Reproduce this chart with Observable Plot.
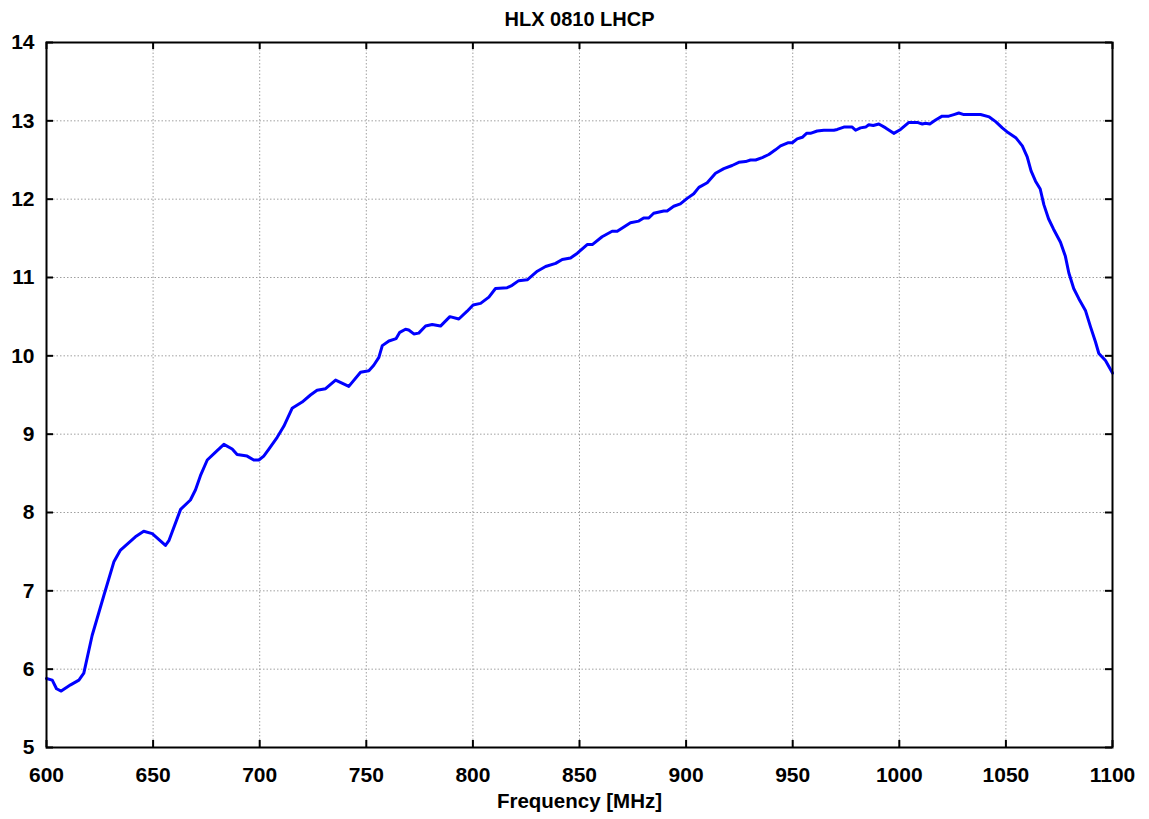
<!DOCTYPE html>
<html>
<head>
<meta charset="utf-8">
<script src="https://cdn.jsdelivr.net/npm/d3@7"></script>
<script src="https://cdn.jsdelivr.net/npm/@observablehq/plot@0.6"></script>
<style>
  html, body { margin: 0; padding: 0; background: #fff; }
</style>
</head>
<body>
<div id="chart"></div>
<script>
const title = "HLX 0810 LHCP";
const xLabel = "Frequency [MHz]";
const xTicks = [600, 650, 700, 750, 800, 850, 900, 950, 1000, 1050, 1100];
const yTicks = [5, 6, 7, 8, 9, 10, 11, 12, 13, 14];

const freq = [
  600, 602.7, 604.7, 606.9, 611.3, 615.2, 617.5, 621.4, 626.9, 631.6,
  634.7, 641.7, 645.6, 649.6, 655.8, 657.4, 662.9, 667.5, 669.9, 672.2,
  675.4, 679.3, 683.2, 687.1, 689.4, 694.1, 697.2, 699.6, 701.9, 704.3,
  708.2, 711.3, 715.2, 719.9, 723.8, 726.9, 730.9, 735.6, 741.8, 747.3,
  751.2, 753.5, 755.9, 757.5, 760.6, 764.0, 765.7, 768.4, 769.9, 772.3,
  774.6, 777.8, 780.9, 784.8, 789.2, 793.4, 797.3, 800.1, 803.6, 807.5,
  810.6, 816.1, 818.4, 821.5, 825.5, 830.2, 834.1, 838.8, 841.9, 845.8,
  849.0, 853.6, 856.0, 860.6, 865.3, 867.7, 873.9, 877.8, 880.1, 882.5,
  884.8, 889.5, 891.1, 894.2, 897.3, 900.5, 903.6, 906.0, 909.9, 913.8,
  917.7, 921.6, 924.7, 927.9, 930.2, 932.6, 935.7, 938.8, 941.9, 944.3,
  947.7, 949.8, 952.1, 954.5, 956.5, 958.3, 961.5, 964.6, 969.3, 970.9,
  974.0, 977.9, 979.5, 981.8, 984.2, 985.7, 987.8, 990.4, 993.6, 997.4,
  1000.6, 1004.5, 1008.4, 1010.8, 1012.3, 1014.3, 1017.0, 1020.1, 1023.2, 1025.6,
  1027.9, 1030.3, 1038.1, 1042.2, 1045.2, 1048.3, 1051.0, 1054.8, 1057.7, 1060.0,
  1061.8, 1063.9, 1066.1, 1067.8, 1070.0, 1072.3, 1075.6, 1077.9, 1079.5, 1081.8,
  1084.2, 1087.3, 1089.7, 1092.0, 1093.6, 1096.7, 1100
];
const gain = [
  5.88, 5.86, 5.75, 5.72, 5.80, 5.86, 5.95, 6.43, 6.94, 7.37,
  7.52, 7.69, 7.76, 7.73, 7.58, 7.64, 8.04, 8.16, 8.29, 8.47,
  8.67, 8.77, 8.87, 8.81, 8.74, 8.72, 8.67, 8.67, 8.72, 8.81,
  8.96, 9.10, 9.33, 9.41, 9.50, 9.56, 9.58, 9.69, 9.61, 9.79,
  9.81, 9.88, 9.98, 10.13, 10.19, 10.22, 10.30, 10.34, 10.33, 10.28,
  10.29, 10.38, 10.40, 10.38, 10.50, 10.47, 10.57, 10.65, 10.67, 10.75,
  10.86, 10.87, 10.90, 10.96, 10.97, 11.08, 11.14, 11.18, 11.23, 11.25,
  11.31, 11.42, 11.42, 11.52, 11.59, 11.59, 11.70, 11.72, 11.76, 11.76,
  11.82, 11.85, 11.85, 11.91, 11.94, 12.01, 12.07, 12.15, 12.21, 12.33,
  12.39, 12.43, 12.47, 12.48, 12.50, 12.50, 12.53, 12.57, 12.63, 12.68,
  12.72, 12.72, 12.77, 12.79, 12.84, 12.84, 12.87, 12.88, 12.88, 12.89,
  12.92, 12.92, 12.88, 12.91, 12.92, 12.95, 12.94, 12.96, 12.91, 12.84,
  12.89, 12.98, 12.98, 12.96, 12.97, 12.96, 13.01, 13.06, 13.06, 13.08,
  13.10, 13.08, 13.08, 13.05, 12.99, 12.91, 12.85, 12.78, 12.68, 12.54,
  12.36, 12.23, 12.13, 11.93, 11.75, 11.62, 11.45, 11.27, 11.06, 10.86,
  10.73, 10.58, 10.37, 10.18, 10.03, 9.94, 9.78
];

const data = freq.map((f, i) => ({f, g: gain[i]}));

const W = 1149, H = 819;
const mL = 46, mR = 37, mT = 42, mB = 72;
const pw = W - mL - mR, ph = H - mT - mB;
const tick = 7;
const font = "'Liberation Sans', Arial, Helvetica, sans-serif";
const grid = {stroke: "#a0a0a0", strokeOpacity: 1, strokeWidth: 1, strokeDasharray: "1.5,2"};

const chart = Plot.plot({
  width: W,
  height: H,
  marginLeft: mL,
  marginRight: mR,
  marginTop: mT,
  marginBottom: mB,
  style: {fontFamily: font, background: "#fff", color: "#000"},
  x: {domain: [600, 1100]},
  y: {domain: [5, 14]},
  marks: [
    Plot.gridX(xTicks, grid),
    Plot.gridY(yTicks, grid),
    // inward ticks on all four sides
    Plot.ruleX(xTicks, {insetTop: ph - tick, stroke: "#000", strokeWidth: 2}),
    Plot.ruleX(xTicks, {insetBottom: ph - tick, stroke: "#000", strokeWidth: 2}),
    Plot.ruleY(yTicks, {insetRight: pw - tick, stroke: "#000", strokeWidth: 2}),
    Plot.ruleY(yTicks, {insetLeft: pw - tick, stroke: "#000", strokeWidth: 2}),
    Plot.axisX(xTicks, {anchor: "bottom", tickSize: 0, tickPadding: 20, fontSize: 21, fontWeight: "bold", label: null, tickFormat: d => String(d)}),
    Plot.axisY(yTicks, {anchor: "left", tickSize: 0, tickPadding: 12, fontSize: 21, fontWeight: "bold", label: null, tickFormat: d => String(d)}),
    Plot.line(data, {x: "f", y: "g", stroke: "#0000ff", strokeWidth: 3, curve: "linear"}),
    Plot.frame({stroke: "#000", strokeWidth: 2}),
    Plot.text([title], {frameAnchor: "top", dy: -23, lineAnchor: "middle", fontSize: 20, fontWeight: "bold", fill: "#000"}),
    Plot.text([xLabel], {frameAnchor: "bottom", dy: 54, lineAnchor: "middle", fontSize: 20.5, fontWeight: "bold", fill: "#000"})
  ]
});
document.getElementById("chart").appendChild(chart);
</script>
</body>
</html>
